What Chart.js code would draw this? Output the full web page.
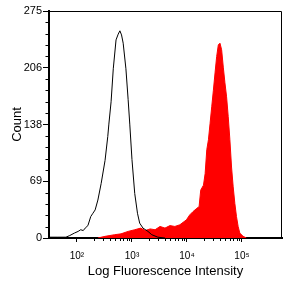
<!DOCTYPE html>
<html>
<head>
<meta charset="utf-8">
<script src="https://cdn.jsdelivr.net/npm/chart.js@4.4.0/dist/chart.umd.min.js"></script>
<style>
  html, body { margin: 0; padding: 0; background: #fff; }
  #wrap { width: 291px; height: 291px; }
</style>
</head>
<body>
<div id="wrap"><canvas id="histChart"></canvas></div>
<script>
// control sample, drawn as black outline
const controlIntensity = [31, 45, 63, 74, 90, 105, 117, 130, 141, 158, 178, 195, 214, 240, 275, 324, 363, 380, 417, 457, 513, 562, 603, 646, 692, 776, 851, 912, 1000, 1122, 1259, 1380, 1585, 1950, 2291, 2951, 3981];
const controlCount = [1, 1, 1, 3, 6, 8, 10, 9, 12, 15, 26, 30, 34, 46, 66, 94, 123, 138, 165, 205, 240, 247, 251, 246, 236, 205, 168, 138, 95, 54, 30, 18, 12, 8, 4, 1, 0];

// stained sample, drawn as red filled area
const stainedIntensity = [240, 324, 398, 484, 631, 851, 1122, 1445, 1738, 2138, 2630, 3236, 3981, 4898, 6026, 7413, 8511, 9772, 11220, 12882, 15136, 16596, 17783, 19953, 21380, 22909, 24547, 26303, 28184, 30200, 32359, 34674, 37154, 39811, 42658, 45709, 48978, 52481, 56234, 60256, 64565, 69183, 74131, 79433, 85114, 91201, 104713, 120226];
const stainedCount = [0, 2, 3, 4, 5, 8, 10, 12, 9, 11, 10, 14, 12, 15, 14, 16, 19, 22, 28, 32, 36, 38, 58, 64, 78, 107, 119, 139, 159, 179, 200, 220, 234, 236, 228, 207, 188, 171, 147, 119, 86, 62, 42, 26, 14, 6, 2, 0];

// axis ticks
const xTickValues = [100, 1000, 10000, 100000];
const xTickLabels = ['10\u00b2', '10\u00b3', '10\u2074', '10\u2075'];
const xMinorTicks = [200, 300, 400, 500, 600, 700, 800, 900, 2000, 3000, 4000, 5000, 6000, 7000, 8000, 9000, 20000, 30000, 40000, 50000, 60000, 70000, 80000, 90000];
const yTickValues = [0, 68.75, 137.5, 206.25, 275];
const yTickLabels = ['0', '69', '138', '206', '275'];
const yMinorTicks = [13.75, 27.5, 41.25, 55, 82.5, 96.25, 110, 123.75, 151.25, 165, 178.75, 192.5, 220, 233.75, 247.5, 261.25];

const FONT = '"Liberation Sans", Arial, sans-serif';

// box on top/right and the small minor ticks
const frameAndMinorTicks = {
    id: 'frameAndMinorTicks',
    afterDraw(chart) {
        const {ctx, chartArea, scales} = chart;
        ctx.save();
        ctx.strokeStyle = '#000';
        ctx.lineWidth = 1;
        ctx.beginPath();
        ctx.moveTo(chartArea.left, chartArea.top + 0.5);
        ctx.lineTo(chartArea.right - 0.5, chartArea.top + 0.5);
        ctx.lineTo(chartArea.right - 0.5, chartArea.bottom);
        ctx.stroke();

        ctx.beginPath();
        xMinorTicks.forEach(v => {
            const x = Math.round(scales.x.getPixelForValue(v)) + 0.5;
            ctx.moveTo(x, chartArea.bottom);
            ctx.lineTo(x, chartArea.bottom + 3);
        });
        yMinorTicks.forEach(v => {
            const y = Math.round(scales.y.getPixelForValue(v)) + 0.5;
            ctx.moveTo(chartArea.left, y);
            ctx.lineTo(chartArea.left - 3.5, y);
        });
        ctx.stroke();
        ctx.restore();
    }
};

new Chart(document.getElementById('histChart').getContext('2d'), {
    type: 'line',
    data: {
        datasets: [{
            label: 'Control',
            data: controlIntensity.map((v, i) => ({x: v, y: controlCount[i]})),
            borderColor: '#000',
            borderWidth: 1,
            fill: false,
            pointRadius: 0,
            tension: 0
        }, {
            label: 'Stained',
            data: stainedIntensity.map((v, i) => ({x: v, y: stainedCount[i]})),
            borderColor: '#ff0000',
            backgroundColor: '#ff0000',
            borderWidth: 1,
            fill: 'origin',
            pointRadius: 0,
            tension: 0
        }]
    },
    options: {
        responsive: true,
        maintainAspectRatio: false,
        animation: false,
        layout: { padding: { top: 11, right: 9, bottom: 0, left: 0 } },
        plugins: {
            legend: { display: false },
            tooltip: { enabled: false }
        },
        scales: {
            x: {
                type: 'logarithmic',
                min: 31,
                max: 534000,
                afterBuildTicks: scale => { scale.ticks = xTickValues.map(v => ({value: v})); },
                afterFit: scale => { scale.height = 53; },
                ticks: {
                    autoSkip: false,
                    maxRotation: 0,
                    padding: 8,
                    color: '#000',
                    font: { family: FONT, size: 10 },
                    callback: (v, i) => xTickLabels[i]
                },
                grid: { drawOnChartArea: false, drawTicks: true, tickLength: 4, color: '#000' },
                border: { color: '#000', width: 2 },
                title: {
                    display: true,
                    text: 'Log Fluorescence Intensity',
                    color: '#000',
                    font: { family: FONT, size: 13 },
                    padding: { top: 0, bottom: 12 }
                }
            },
            y: {
                min: 0,
                max: 275,
                afterBuildTicks: scale => { scale.ticks = yTickValues.map(v => ({value: v})); },
                afterFit: scale => { scale.width = 49; },
                ticks: {
                    autoSkip: false,
                    padding: 1,
                    color: '#000',
                    font: { family: FONT, size: 11 },
                    callback: (v, i) => yTickLabels[i]
                },
                grid: { drawOnChartArea: false, drawTicks: true, tickLength: 6, color: '#000' },
                border: { color: '#000', width: 2 },
                title: {
                    display: true,
                    text: 'Count',
                    color: '#000',
                    font: { family: FONT, size: 13 },
                    padding: { top: 10, bottom: 0 }
                }
            }
        }
    },
    plugins: [frameAndMinorTicks]
});
</script>
</body>
</html>
